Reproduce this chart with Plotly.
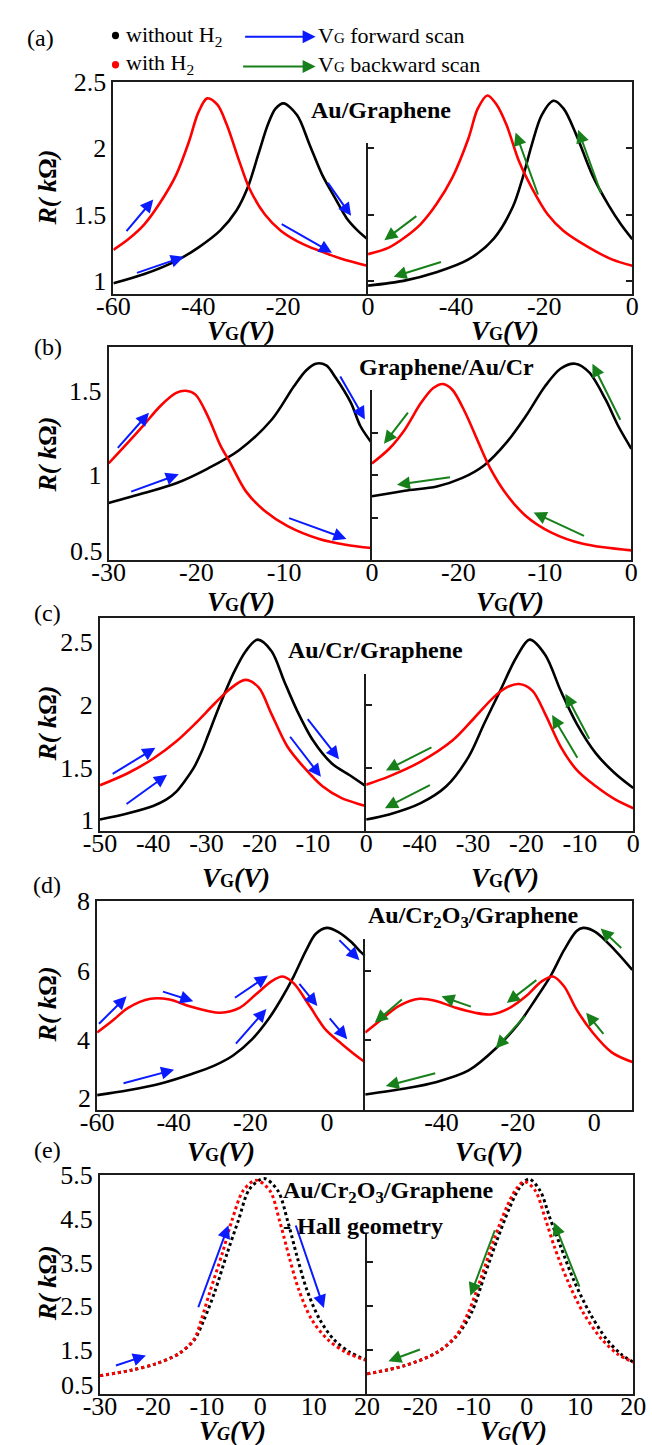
import plotly.graph_objects as go

# ======================= DATA =======================
# (a) Au/Graphene  -- forward scan (left) and backward scan (right)
a_fwd_V_noH2 = [-60, -52.7, -45.2, -40, -34.8, -31.0, -28.4, -25.8, -23.6, -21.8, -19.9, -16.7, -13.8, -10.8, -7.8, -5.0, -2.5, 0]
a_fwd_R_noH2 = [0.98, 1.05, 1.15, 1.25, 1.38, 1.53, 1.70, 1.96, 2.18, 2.30, 2.34, 2.25, 2.03, 1.80, 1.626, 1.47, 1.38, 1.31]
a_fwd_V_H2 = [-60, -56.5, -52.7, -49.0, -45.2, -42.2, -40.0, -37.9, -35.5, -33.3, -30.3, -28.0, -24.3, -20.5, -15.3, -9.3, -6.3, 0]
a_fwd_R_H2 = [1.233, 1.313, 1.426, 1.589, 1.80, 2.05, 2.27, 2.378, 2.33, 2.18, 1.90, 1.70, 1.50, 1.376, 1.276, 1.20, 1.165, 1.11]
a_bwd_V_noH2 = [-60, -51.7, -44.5, -37.2, -31.4, -27.1, -24.9, -22.8, -20.6, -17.9, -15.6, -12.7, -9.1, -5.5, -2.6, 0]
a_bwd_R_noH2 = [0.962, 1.0, 1.063, 1.16, 1.32, 1.56, 1.777, 2.03, 2.25, 2.36, 2.30, 2.10, 1.80, 1.577, 1.426, 1.313]
a_bwd_V_H2 = [-60, -55.3, -51.7, -48.1, -44.5, -40.9, -37.2, -35.1, -32.9, -30.8, -28.6, -25.7, -22.8, -19.2, -15.6, -9.8, -4.8, 0]
a_bwd_R_H2 = [1.20, 1.25, 1.326, 1.426, 1.577, 1.777, 2.077, 2.30, 2.40, 2.33, 2.18, 1.90, 1.70, 1.50, 1.376, 1.25, 1.163, 1.113]

# (b) Graphene/Au/Cr
b_fwd_V_noH2 = [-30, -25.95, -22.3, -18.7, -15.1, -11.4, -8.9, -7.5, -6.4, -5.2, -4.2, -2.4, -1.3, 0]
b_fwd_R_noH2 = [0.837, 0.895, 0.953, 1.04, 1.15, 1.33, 1.525, 1.62, 1.66, 1.65, 1.583, 1.43, 1.29, 1.19]
b_fwd_V_H2 = [-30, -27.75, -25.95, -24.1, -22.3, -21.2, -20.1, -18.7, -17.25, -16.2, -14.35, -12.2, -9.6, -6.0, -3.0, 0]
b_fwd_R_H2 = [1.07, 1.196, 1.30, 1.41, 1.487, 1.50, 1.477, 1.35, 1.176, 1.08, 0.905, 0.789, 0.70, 0.624, 0.59, 0.57]
b_bwd_V_noH2 = [-30, -26.2, -22.5, -19.6, -17.0, -14.4, -12.2, -10.0, -8.2, -6.5, -4.9, -3.0, -1.5, 0]
b_bwd_R_noH2 = [0.876, 0.909, 0.934, 0.983, 1.06, 1.196, 1.35, 1.525, 1.63, 1.66, 1.61, 1.45, 1.29, 1.157]
b_bwd_V_H2 = [-30, -28.0, -26.2, -24.3, -22.9, -21.8, -20.7, -19.2, -17.7, -16.3, -14.4, -12.2, -9.3, -5.6, 0]
b_bwd_R_H2 = [1.07, 1.157, 1.27, 1.43, 1.516, 1.54, 1.506, 1.37, 1.196, 1.04, 0.885, 0.76, 0.663, 0.595, 0.556]

# (c) Au/Cr/Graphene
c_fwd_V_noH2 = [-50, -44.7, -39.9, -37.5, -35.7, -34.0, -32.4, -30.9, -29.7, -27.4, -25.0, -22.6, -20.4, -17.8, -15.4, -13.0, -10.0, -6.5, -3.0, 0]
c_fwd_R_noH2 = [1.09, 1.14, 1.20, 1.25, 1.31, 1.40, 1.50, 1.63, 1.76, 2.01, 2.246, 2.43, 2.52, 2.43, 2.19, 1.958, 1.72, 1.538, 1.44, 1.354]
c_fwd_V_H2 = [-50, -44.7, -39.9, -35.7, -32.1, -28.5, -25.6, -22.7, -20.2, -17.8, -14.8, -11.8, -8.2, -4.7, -1.1, 0]
c_fwd_R_H2 = [1.362, 1.46, 1.577, 1.71, 1.853, 2.01, 2.128, 2.20, 2.14, 1.93, 1.67, 1.51, 1.354, 1.262, 1.21, 1.197]
c_bwd_V_noH2 = [-50, -45.7, -39.8, -35.0, -30.8, -27.9, -24.9, -21.9, -19.4, -16.5, -13.6, -10.6, -7.0, -3.5, 0]
c_bwd_R_noH2 = [1.09, 1.13, 1.22, 1.354, 1.59, 1.853, 2.115, 2.378, 2.52, 2.40, 2.115, 1.853, 1.616, 1.46, 1.34]
c_bwd_V_H2 = [-50, -45.7, -39.8, -33.8, -29.6, -26.1, -23.7, -21.4, -18.9, -16.5, -13.6, -10.6, -7.0, -3.4, 0]
c_bwd_R_H2 = [1.367, 1.433, 1.55, 1.72, 1.905, 2.063, 2.14, 2.167, 2.115, 1.93, 1.67, 1.485, 1.354, 1.25, 1.18]

# (d) Au/Cr2O3/Graphene
d_fwd_V_noH2 = [-60, -51.9, -43.6, -35.3, -29.4, -24.5, -19.5, -15.3, -12.0, -8.7, -5.4, -2.9, 0.0, 3.0, 6.3, 8.8, 10]
d_fwd_R_noH2 = [2.42, 2.56, 2.75, 3.03, 3.27, 3.56, 4.03, 4.60, 5.17, 5.83, 6.59, 7.06, 7.23, 7.11, 6.83, 6.54, 6.42]
d_fwd_V_H2 = [-60, -56.1, -51.9, -46.1, -41.1, -36.1, -31.1, -27.8, -22.8, -18.6, -14.5, -11.6, -8.7, -4.5, -0.4, 3.8, 8.8, 10]
d_fwd_R_H2 = [4.22, 4.55, 4.93, 5.19, 5.17, 4.98, 4.84, 4.79, 4.93, 5.31, 5.69, 5.83, 5.64, 4.98, 4.31, 3.90, 3.46, 3.37]
d_bwd_V_noH2 = [-60, -49.6, -41.25, -32.9, -25.8, -19.6, -15.4, -11.25, -7.9, -4.6, -2.9, 0.4, 5.4, 10]
d_bwd_R_noH2 = [2.44, 2.61, 2.80, 3.13, 3.76, 4.50, 5.17, 5.88, 6.59, 7.14, 7.23, 7.11, 6.59, 6.02]
d_bwd_V_H2 = [-60, -56.25, -51.25, -45.8, -41.25, -36.25, -31.25, -27.1, -22.1, -17.9, -13.75, -10.8, -7.9, -4.6, -0.4, 4.6, 10]
d_bwd_R_H2 = [4.22, 4.55, 4.98, 5.19, 5.12, 4.93, 4.79, 4.74, 4.93, 5.26, 5.69, 5.83, 5.55, 4.88, 4.22, 3.65, 3.37]

# (e) Au/Cr2O3/Graphene - Hall geometry
e_fwd_V_noH2 = [-30, -24.3, -19.6, -15.4, -12.4, -10.5, -8.6, -6.2, -4.1, -2.0, 0.7, 3.3, 5.1, 6.9, 8.7, 11.1, 13.75, 16.7, 20]
e_fwd_R_noH2 = [0.91, 1.03, 1.18, 1.40, 1.72, 2.20, 2.80, 3.71, 4.46, 5.18, 5.42, 5.14, 4.46, 3.63, 2.88, 2.20, 1.74, 1.45, 1.26]
e_fwd_V_H2 = [-30, -24.3, -19.6, -15.4, -12.4, -11.0, -9.5, -7.1, -5.3, -3.2, -0.8, 1.8, 3.6, 5.4, 7.2, 9.6, 12.6, 16.1, 20]
e_fwd_R_H2 = [0.91, 1.03, 1.18, 1.40, 1.74, 2.20, 2.80, 3.71, 4.46, 5.14, 5.38, 5.14, 4.46, 3.63, 2.88, 2.20, 1.74, 1.44, 1.25]
e_bwd_V_noH2 = [-30, -22.9, -16.9, -13.3, -10.4, -8.0, -5.6, -3.2, -1.4, 0.4, 2.5, 4.3, 6.4, 8.8, 11.8, 15.0, 17.7, 20]
e_bwd_R_noH2 = [0.95, 1.14, 1.44, 1.80, 2.35, 3.18, 4.01, 4.76, 5.20, 5.41, 5.14, 4.53, 3.85, 3.10, 2.35, 1.74, 1.40, 1.22]
e_bwd_V_H2 = [-30, -22.9, -16.9, -13.3, -11.0, -8.5, -6.2, -3.8, -2.0, -0.5, 1.6, 3.4, 5.2, 7.6, 10.6, 14.1, 17.1, 20]
e_bwd_R_H2 = [0.95, 1.14, 1.44, 1.82, 2.35, 3.18, 4.01, 4.76, 5.18, 5.35, 5.14, 4.53, 3.85, 3.10, 2.35, 1.74, 1.40, 1.22]

# tick values / labels
a_xticks_left = [-60, -40, -20, 0]
a_xticks_right = [-40, -20, 0]
a_yticks = [1, 1.5, 2, 2.5]
a_yticklabels = ["1", "1.5", "2", "2.5"]
b_xticks_left = [-30, -20, -10, 0]
b_xticks_right = [-20, -10, 0]
b_yticks = [0.5, 1, 1.5]
b_yticklabels = ["0.5", "1", "1.5"]
c_xticks_left = [-50, -40, -30, -20, -10, 0]
c_xticks_right = [-40, -30, -20, -10, 0]
c_yticks = [1, 1.5, 2, 2.5]
c_yticklabels = ["1", "1.5", "2", "2.5"]
d_xticks_left = [-60, -40, -20, 0]
d_xticks_right = [-40, -20, 0]
d_yticks = [2, 4, 6, 8]
d_yticklabels = ["2", "4", "6", "8"]
e_xticks_left = [-30, -20, -10, 0, 10, 20]
e_xticks_right = [-20, -10, 0, 10, 20]
e_yticks = [0.5, 1.5, 2.5, 3.5, 4.5, 5.5]
e_yticklabels = ["0.5", "1.5", "2.5", "3.5", "4.5", "5.5"]

panel_letters = ["(a)", "(b)", "(c)", "(d)", "(e)"]
device_names = ["Au/Graphene", "Graphene/Au/Cr", "Au/Cr/Graphene",
                "Au/Cr<sub>2</sub>O<sub>3</sub>/Graphene",
                "Au/Cr<sub>2</sub>O<sub>3</sub>/Graphene"]
legend_labels = ["without H<sub>2</sub>", "with H<sub>2</sub>",
                 "V<span style='font-size:15px'>G</span> forward scan",
                 "V<span style='font-size:15px'>G</span> backward scan"]

# ======================= LAYOUT HELPERS =======================
W, H = 652, 1445
FONT = "Liberation Serif"
FRAME = "#1c1c1c"
BLUE = "#0a1bff"
GREEN = "#17801a"


def fx(p):
    return p / W


def fy(p):
    return 1 - p / H


def fmt(v):
    return str(v)


panels = [
    dict(xl=(101, 368), xr=(368, 645), yt=69, yb=283, yr=[0.9, 2.5], xrL=[-60, 0], xrR=[-60, 0],
         xtL=a_xticks_left, xtR=a_xticks_right, ytv=a_yticks, ytt=a_yticklabels, lift=0,
         mid_top=130, mid_ticks=[1, 1.5, 2], right_ticks=[1, 1.5, 2], dotted=False,
         fwd=(a_fwd_V_noH2, a_fwd_R_noH2, a_fwd_V_H2, a_fwd_R_H2),
         bwd=(a_bwd_V_noH2, a_bwd_R_noH2, a_bwd_V_H2, a_bwd_R_H2),
         xtitle=(235, 512, 321), ytitle=176, letter=(25, 24)),
    dict(xl=(96, 372), xr=(372, 644), yt=337, yb=552, yr=[0.5, 1.757], xrL=[-30, 0], xrR=[-30, 0],
         xtL=b_xticks_left, xtR=b_xticks_right, ytv=b_yticks, ytt=b_yticklabels, lift=8,
         mid_top=380, mid_ticks=[0.75, 1, 1.25, 1.5], right_ticks=[], dotted=False,
         fwd=(b_fwd_V_noH2, b_fwd_R_noH2, b_fwd_V_H2, b_fwd_R_H2),
         bwd=(b_bwd_V_noH2, b_bwd_R_noH2, b_bwd_V_H2, b_bwd_R_H2),
         xtitle=(235, 517, 595), ytitle=446, letter=(32, 337)),
    dict(xl=(87, 366), xr=(366, 646), yt=611, yb=826, yr=[1, 2.69], xrL=[-50, 0], xrR=[-50, 0],
         xtL=c_xticks_left, xtR=c_xticks_right, ytv=c_yticks, ytt=c_yticklabels, lift=10,
         mid_top=667, mid_ticks=[1.5, 2], right_ticks=[], dotted=False,
         fwd=(c_fwd_V_noH2, c_fwd_R_noH2, c_fwd_V_H2, c_fwd_R_H2),
         bwd=(c_bwd_V_noH2, c_bwd_R_noH2, c_bwd_V_H2, c_bwd_R_H2),
         xtitle=(230, 512, 874), ytitle=718, letter=(32, 606)),
    dict(xl=(84, 365), xr=(365, 645), yt=897, yb=1108, yr=[2, 8], xrL=[-60, 10], xrR=[-60, 10],
         xtL=d_xticks_left, xtR=d_xticks_right, ytv=d_yticks, ytt=d_yticklabels, lift=11,
         mid_top=935, mid_ticks=[4, 6], right_ticks=[], dotted=False,
         fwd=(d_fwd_V_noH2, d_fwd_R_noH2, d_fwd_V_H2, d_fwd_R_H2),
         bwd=(d_bwd_V_noH2, d_bwd_R_noH2, d_bwd_V_H2, d_bwd_R_H2),
         xtitle=(214, 495, 1151), ytitle=1002, letter=(31, 881)),
    dict(xl=(87, 367), xr=(367, 646), yt=1174, yb=1395, yr=[0.5, 5.5], xrL=[-30, 20], xrR=[-30, 20],
         xtL=e_xticks_left, xtR=e_xticks_right, ytv=e_yticks, ytt=e_yticklabels, lift=8,
         mid_top=1233, mid_ticks=[1.5, 2.5, 3.5], right_ticks=[], dotted=True,
         fwd=(e_fwd_V_noH2, e_fwd_R_noH2, e_fwd_V_H2, e_fwd_R_H2),
         bwd=(e_bwd_V_noH2, e_bwd_R_noH2, e_bwd_V_H2, e_bwd_R_H2),
         xtitle=(226, 520, 1433), ytitle=1284, letter=(32, 1149)),
]

# arrows: (panel, side, tail V, tail R, head V, head R)
arrows = [
    (0, "L", -57.2, 1.363, -50.6, 1.614), (0, "L", -54.8, 1.055, -43.4, 1.18),
    (0, "L", -9.7, 1.75, -4.0, 1.49), (0, "L", -20.7, 1.434, -8.5, 1.21),
    (0, "R", -48.7, 1.496, -56.3, 1.306), (0, "R", -43.1, 1.145, -54.2, 1.03),
    (0, "R", -21.3, 1.64, -26.5, 2.12), (0, "R", -7.0, 1.65, -12.3, 2.14),
    (1, "L", -29.1, 1.153, -25.4, 1.37), (1, "L", -27.6, 0.90, -22.0, 1.006),
    (1, "L", -9.6, 0.75, -2.9, 0.624), (1, "L", -3.7, 1.593, -0.8, 1.33),
    (1, "R", -25.7, 1.38, -28.6, 1.186), (1, "R", -20.8, 0.99, -27.1, 0.944),
    (1, "R", -5.3, 0.638, -11.3, 0.78), (1, "R", -1.2, 1.32, -4.5, 1.66),
    (2, "L", -47.9, 1.446, -39.6, 1.66), (2, "L", -45.3, 1.205, -37.4, 1.446),
    (2, "L", -14.5, 1.76, -8.5, 1.43), (2, "L", -11.2, 1.90, -5.1, 1.57),
    (2, "R", -37.5, 1.67, -46.3, 1.48), (2, "R", -37.8, 1.37, -46.5, 1.18),
    (2, "R", -10.3, 1.57, -15.2, 1.92), (2, "R", -8.1, 1.72, -12.7, 2.09),
    (3, "L", -59.9, 4.43, -52.3, 5.26), (3, "L", -43.2, 5.41, -34.9, 5.12),
    (3, "L", -53.5, 2.75, -39.9, 3.15), (3, "L", -24.4, 5.19, -15.4, 5.86),
    (3, "L", -24.1, 3.86, -15.8, 4.90), (3, "L", -7.5, 5.66, -2.5, 4.98),
    (3, "L", 0.4, 4.67, 5.3, 4.03), (3, "L", 2.85, 6.92, 8.5, 6.30),
    (3, "R", -50, 5.21, -57.5, 4.50), (3, "R", -31.9, 4.95, -40, 5.26),
    (3, "R", -14.75, 5.76, -22.9, 5.07), (3, "R", -17.75, 4.74, -25.8, 3.76),
    (3, "R", -41.25, 3.06, -54.6, 2.68), (3, "R", 2.75, 4.14, -2.1, 4.79),
    (3, "R", 7.5, 6.61, 1.7, 7.21),
    (4, "L", -27.3, 1.13, -21.4, 1.37), (4, "L", -11.7, 2.44, -5.95, 4.35),
    (4, "L", 6.55, 4.38, 11.9, 2.46),
    (4, "R", -19.8, 1.52, -26, 1.24), (4, "R", -5.9, 4.27, -10.6, 2.74),
    (4, "R", 10, 2.91, 5.1, 4.42),
]

fig = go.Figure()
layout = dict(width=W, height=H, margin=dict(l=0, r=0, t=0, b=0), autosize=False,
              paper_bgcolor="white", plot_bgcolor="rgba(0,0,0,0)", showlegend=False,
              hovermode=False)
annotations = []
shapes = []
tickfont = dict(family=FONT, size=26, color="black")

axis_names = []
for i, p in enumerate(panels):
    xl_id, xr_id = 2 * i + 1, 2 * i + 2
    yl_id, yr_id, ym_id = 3 * i + 1, 3 * i + 2, 3 * i + 3
    ydom = [fy(p["yb"]), fy(p["yt"])]
    axis_names.append((xl_id, xr_id, yl_id, yr_id))

    # y tick labels: the one sitting on the bottom edge is lifted a little (as in the figure)
    ytv, ytt = list(p["ytv"]), list(p["ytt"])
    if p["lift"]:
        bottom_label = ytt.pop(0)
        ytv.pop(0)
        annotations.append(dict(text=bottom_label, x=fx(p["xl"][0] - 4), y=fy(p["yb"] - p["lift"]),
                                xref="paper", yref="paper", showarrow=False, xanchor="right",
                                yanchor="middle", font=tickfont))

    common_x = dict(showline=True, linecolor=FRAME, linewidth=2, mirror=True, ticks="",
                    showgrid=False, zeroline=False, tickfont=tickfont, autorange=False,
                    ticklabelstandoff=-12)
    layout[f"xaxis{xl_id}"] = dict(common_x, domain=[fx(p["xl"][0]), fx(p["xl"][1])], anchor=f"y{yl_id}",
                                   range=p["xrL"], tickvals=p["xtL"], ticktext=[fmt(v) for v in p["xtL"]])
    layout[f"xaxis{xr_id}"] = dict(common_x, domain=[fx(p["xr"][0]), fx(p["xr"][1])], anchor=f"y{yr_id}",
                                   range=p["xrR"], tickvals=p["xtR"], ticktext=[fmt(v) for v in p["xtR"]])
    layout[f"yaxis{yl_id}"] = dict(domain=ydom, anchor=f"x{xl_id}", range=p["yr"], autorange=False,
                                   showline=True, linecolor=FRAME, linewidth=2, mirror=False, ticks="",
                                   showgrid=False, zeroline=False, tickvals=ytv, ticktext=ytt,
                                   tickfont=tickfont)
    layout[f"yaxis{yr_id}"] = dict(domain=ydom, anchor=f"x{xr_id}", side="right", range=p["yr"], autorange=False,
                                   showline=True, linecolor=FRAME, linewidth=2,
                                   ticks="inside" if p["right_ticks"] else "", ticklen=6, tickwidth=1.5,
                                   tickcolor=FRAME, tickvals=p["right_ticks"], showticklabels=False,
                                   showgrid=False, zeroline=False)
    mid_val = p["yr"][0] + (p["yb"] - p["mid_top"]) / (p["yb"] - p["yt"]) * (p["yr"][1] - p["yr"][0])
    layout[f"yaxis{ym_id}"] = dict(domain=[fy(p["yb"]), fy(p["mid_top"])], anchor=f"x{xr_id}", side="left",
                                   range=[p["yr"][0], mid_val], autorange=False,
                                   showline=True, linecolor=FRAME, linewidth=2, ticks="inside",
                                   ticklen=6, tickwidth=1.5, tickcolor=FRAME, tickvals=p["mid_ticks"],
                                   showticklabels=False, showgrid=False, zeroline=False)
    fig.add_trace(go.Scatter(x=[], y=[], xaxis=f"x{xr_id}", yaxis=f"y{ym_id}", hoverinfo="skip"))

    dash = "dot" if p["dotted"] else "solid"
    lw = 3 if p["dotted"] else 2.6
    for side, key in (("L", "fwd"), ("R", "bwd")):
        vn, rn, vh, rh = p[key]
        xa = f"x{xl_id}" if side == "L" else f"x{xr_id}"
        ya = f"y{yl_id}" if side == "L" else f"y{yr_id}"
        fig.add_trace(go.Scatter(x=vn, y=rn, xaxis=xa, yaxis=ya, mode="lines",
                                 line=dict(color="black", width=lw, dash=dash, shape="spline", smoothing=0.9)))
        fig.add_trace(go.Scatter(x=vh, y=rh, xaxis=xa, yaxis=ya, mode="lines",
                                 line=dict(color="#ff0000", width=lw, dash=dash, shape="spline", smoothing=0.9)))

    # axis titles
    xt = "<b><i>V</i><span style='font-size:18px'>G</span><i>(V)</i></b>" if i < 4 else \
         "<b><i>V<span style='font-size:18px'>G</span>(V)</i></b>"
    for cx in p["xtitle"][:2]:
        annotations.append(dict(text=xt, x=fx(cx), y=fy(p["xtitle"][2]), xref="paper", yref="paper",
                                showarrow=False, xanchor="center", yanchor="middle",
                                font=dict(family=FONT, size=27, color="black")))
    annotations.append(dict(text="<b><i>R( k</i>Ω<i>)</i></b>", x=fx(32), y=fy(p["ytitle"]),
                            xref="paper", yref="paper", showarrow=False, textangle=-90,
                            xanchor="center", yanchor="middle",
                            font=dict(family=FONT, size=26, color="black")))
    annotations.append(dict(text=panel_letters[i], x=fx(p["letter"][0]), y=fy(p["letter"][1]),
                            xref="paper", yref="paper", showarrow=False, xanchor="center", yanchor="middle",
                            font=dict(family=FONT, size=24, color="black")))

# device names
name_pos = [(382, 97, "center"), (450, 357, "center"), (376, 643, "center"), (478, 913, "center"),
            (277, 1191, "left")]
for (nx, ny, anc), name in zip(name_pos, device_names):
    annotations.append(dict(text=f"<b>{name}</b>", x=fx(nx), y=fy(ny), xref="paper", yref="paper",
                            showarrow=False, xanchor=anc, yanchor="middle",
                            font=dict(family=FONT, size=24, color="black")))
annotations.append(dict(text="<b>- Hall geometry</b>", x=fx(277), y=fy(1226), xref="paper", yref="paper",
                        showarrow=False, xanchor="left", yanchor="middle",
                        font=dict(family=FONT, size=24, color="black")))

# scan-direction arrows
for (pi, side, tv, tr, hv, hr) in arrows:
    xl_id, xr_id, yl_id, yr_id = axis_names[pi]
    xa = f"x{xl_id}" if side == "L" else f"x{xr_id}"
    ya = f"y{yl_id}" if side == "L" else f"y{yr_id}"
    annotations.append(dict(x=hv, y=hr, ax=tv, ay=tr, xref=xa, yref=ya, axref=xa, ayref=ya,
                            text="", showarrow=True, arrowhead=2, arrowsize=1.3, arrowwidth=2,
                            standoff=0, startstandoff=0,
                            arrowcolor=BLUE if side == "L" else GREEN))

# top legend
legend_font = dict(family=FONT, size=22, color="black")
shapes.append(dict(type="circle", xref="paper", yref="paper", x0=fx(99.5), x1=fx(107), y0=fy(25.5), y1=fy(18),
                   fillcolor="black", line=dict(width=0)))
shapes.append(dict(type="circle", xref="paper", yref="paper", x0=fx(99.5), x1=fx(107), y0=fy(55), y1=fy(47.5),
                   fillcolor="#ff0000", line=dict(width=0)))
annotations.append(dict(text=legend_labels[0], x=fx(112), y=fy(22), xref="paper", yref="paper",
                        showarrow=False, xanchor="left", yanchor="middle", font=legend_font))
annotations.append(dict(text=legend_labels[1], x=fx(112), y=fy(51), xref="paper", yref="paper",
                        showarrow=False, xanchor="left", yanchor="middle", font=legend_font))
annotations.append(dict(text=legend_labels[2], x=fx(313), y=fy(22), xref="paper", yref="paper",
                        showarrow=False, xanchor="left", yanchor="middle", font=legend_font))
annotations.append(dict(text=legend_labels[3], x=fx(313), y=fy(51), xref="paper", yref="paper",
                        showarrow=False, xanchor="left", yanchor="middle", font=legend_font))
annotations.append(dict(x=fx(313), y=fy(23), xref="paper", yref="paper", ax=-72, ay=0, text="",
                        showarrow=True, arrowhead=2, arrowsize=1.3, arrowwidth=2, arrowcolor=BLUE, standoff=0))
annotations.append(dict(x=fx(313), y=fy(53), xref="paper", yref="paper", ax=-74, ay=0, text="",
                        showarrow=True, arrowhead=2, arrowsize=1.3, arrowwidth=2, arrowcolor=GREEN, standoff=0))

layout["annotations"] = annotations
layout["shapes"] = shapes
fig.update_layout(**layout)
fig.write_html("out.html")
